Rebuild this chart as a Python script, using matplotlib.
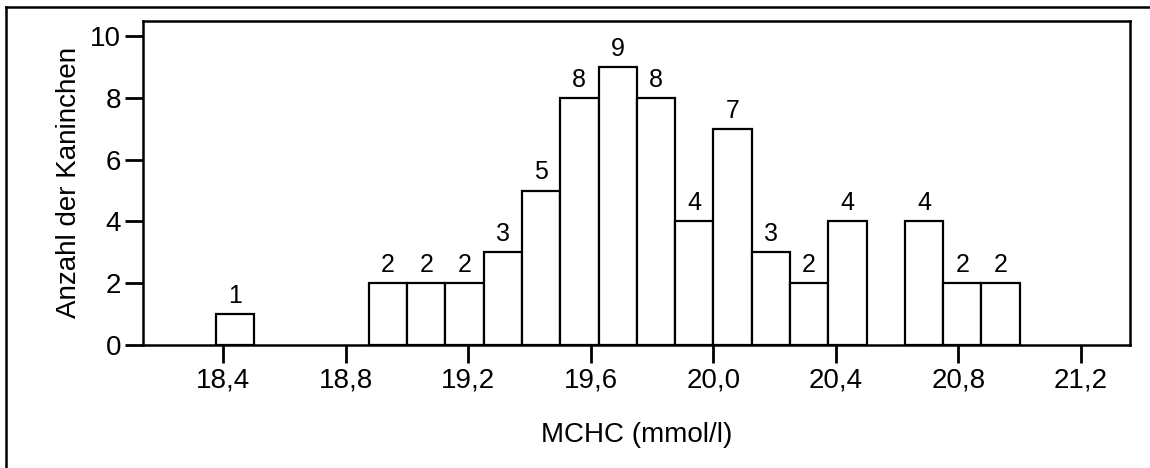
import matplotlib
matplotlib.use("Agg")
import matplotlib.pyplot as plt
from matplotlib.lines import Line2D
import numpy as np

plt.rcParams['font.family'] = ['Liberation Sans', 'DejaVu Sans']

# Histogramm MCHC, Klassenbreite 0,125 mmol/l
bin_start = 18.375
bin_width = 0.125
counts = [1, 0, 0, 0, 2, 2, 2, 3, 5, 8, 9, 8, 4, 7, 3, 2, 4, 0, 4, 2, 2]

x_ticks = [18.4, 18.8, 19.2, 19.6, 20.0, 20.4, 20.8, 21.2]
y_ticks = [0, 2, 4, 6, 8, 10]

W, H = 1150, 468
fig = plt.figure(figsize=(W / 100, H / 100), dpi=100)
ax = fig.add_axes([143.3 / W, 1 - 345 / H, (1130 - 143.3) / W, (345 - 20.7) / H])

counts = np.array(counts)
lefts = bin_start + bin_width * np.arange(len(counts))
keep = counts > 0
bars = ax.bar(lefts[keep], counts[keep], width=bin_width, align='edge',
              color='white', edgecolor='black', linewidth=1.6, zorder=2)
ax.bar_label(bars, labels=[str(c) for c in counts[keep]], padding=4.5, fontsize=18)

ax.set_xlim(18.139, 21.36)
ax.set_ylim(0, 10.5)
ax.set_xticks(x_ticks)
ax.set_xticklabels([f"{v:.1f}".replace('.', ',') for v in x_ticks])
ax.set_yticks(y_ticks)
ax.tick_params(axis='both', length=13, width=2, labelsize=20, pad=3, color='black')

for s in ax.spines.values():
    s.set_linewidth(1.8)

ax.set_xlabel('MCHC (mmol/l)', fontsize=20, labelpad=21)
ax.set_ylabel('Anzahl der Kaninchen', fontsize=20, labelpad=6)

# Rahmen um die Grafik
fy = 1 - 7 / H
fx = 6 / W
fig.add_artist(Line2D([fx, fx], [0, fy], color='black', lw=1.8, transform=fig.transFigure))
fig.add_artist(Line2D([fx, 1], [fy, fy], color='black', lw=1.8, transform=fig.transFigure))

fig.savefig('out.png', dpi=100, facecolor='white')
